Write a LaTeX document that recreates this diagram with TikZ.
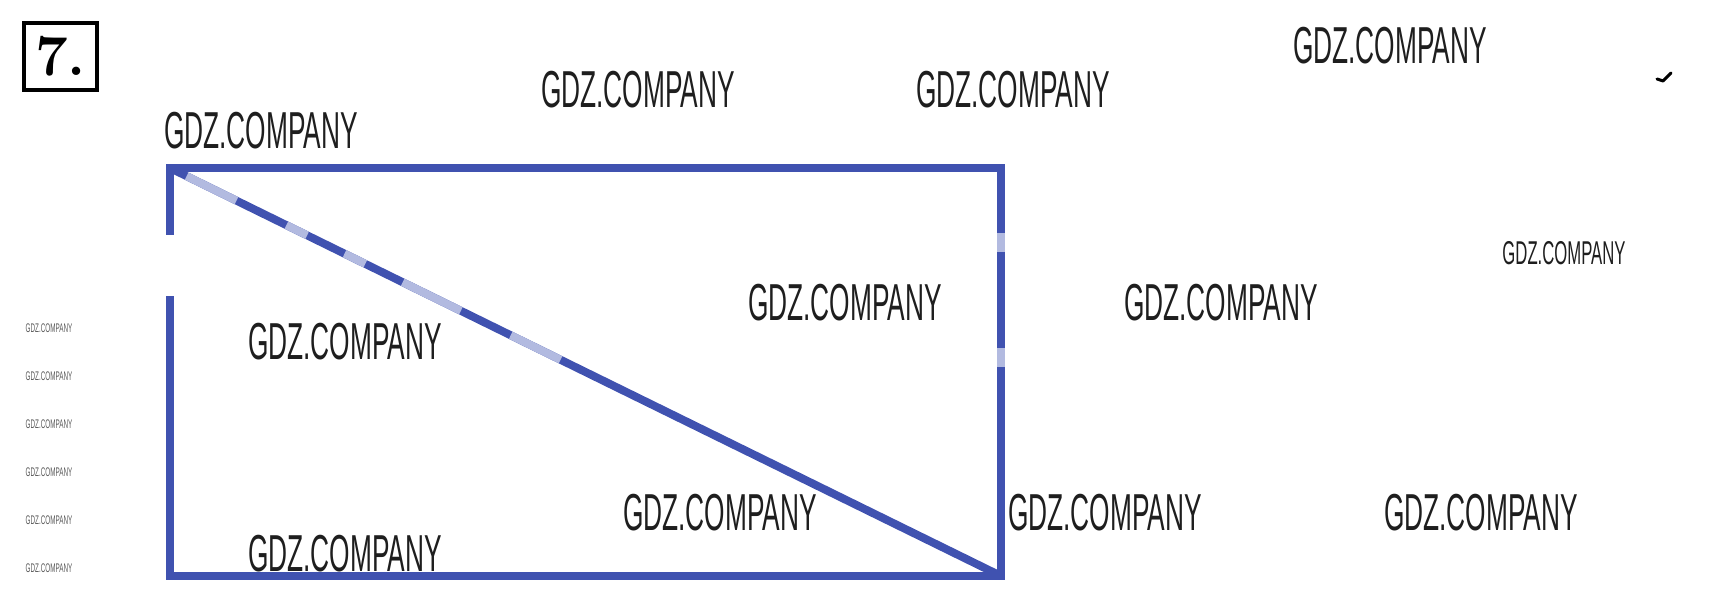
\documentclass[tikz,border=0pt]{standalone}
\usepackage{fontspec}
\usetikzlibrary{calc}
\newfontfamily\wmfont[FakeStretch=0.506]{Liberation Sans}
\definecolor{edgeblue}{RGB}{64,82,176}
\definecolor{lightblue}{RGB}{178,186,224}
\definecolor{wmgray}{RGB}{30,30,30}
\definecolor{wmsmallgray}{RGB}{90,90,90}
\tikzset{
  wm/.style={inner sep=0pt, text=wmgray, font=\wmfont\fontsize{52}{52}\selectfont},
  wmmid/.style={inner sep=0pt, text=wmgray, font=\wmfont\fontsize{33}{33}\selectfont},
  wmsmall/.style={inner sep=0pt, text=wmsmallgray, font=\wmfont\fontsize{12.5}{12.5}\selectfont},
  edge/.style={draw=edgeblue, line width=8pt},
  faded/.style={draw=lightblue, line width=8pt},
  numbox/.style={draw=black, line width=3.5pt, minimum width=73pt, minimum height=67pt, inner sep=0pt, font=\bfseries\fontsize{58}{58}\selectfont}
}
\begin{document}
\begin{tikzpicture}[x=1pt,y=-1pt]
\useasboundingbox (0,0) rectangle (1713,600);
% number box
\node[numbox] (num) at (60.5,56.5) {7.};
% rectangle corners
\coordinate (A) at (170,168);
\coordinate (B) at (1001,168);
\coordinate (C) at (1001,576);
\coordinate (D) at (170,576);
\coordinate (L1) at (170,235);
\coordinate (L2) at (170,300);
% edges
\draw[edge, line cap=rect] (A) -- (B) -- (C) -- (D) -- (L2);
\draw[edge] (A) -- (L1);
\draw[edge, line cap=round] (A) -- (C);
% faded pieces of the diagonal
\draw[faded] ($(A)!0.02!(C)$) -- ($(A)!0.08!(C)$);
\draw[faded] ($(A)!0.14!(C)$) -- ($(A)!0.165!(C)$);
\draw[faded] ($(A)!0.21!(C)$) -- ($(A)!0.235!(C)$);
\draw[faded] ($(A)!0.28!(C)$) -- ($(A)!0.35!(C)$);
\draw[faded] ($(A)!0.41!(C)$) -- ($(A)!0.47!(C)$);
% faded pieces of the right edge
\draw[faded] (1001,233) -- (1001,252);
\draw[faded] (1001,348) -- (1001,367);
% watermarks
\node[wm] (w1) at (1390,46) {GDZ.COMPANY};
\node[wm] (w2) at (638,90) {GDZ.COMPANY};
\node[wm] (w3) at (1013,90) {GDZ.COMPANY};
\node[wm] (w4) at (261,131) {GDZ.COMPANY};
\node[wmmid] (w5) at (1564,253) {GDZ.COMPANY};
\node[wm] (w6) at (845,303) {GDZ.COMPANY};
\node[wm] (w7) at (1221,303) {GDZ.COMPANY};
\node[wm] (w8) at (345,342) {GDZ.COMPANY};
\node[wm] (w9) at (720,513) {GDZ.COMPANY};
\node[wm] (w10) at (1105,513) {GDZ.COMPANY};
\node[wm] (w11) at (1481,513) {GDZ.COMPANY};
\node[wm] (w12) at (345,554) {GDZ.COMPANY};
\foreach \yy [count=\i] in {328,376,424,472,520,568}
  \node[wmsmall] (s\i) at (49,\yy) {GDZ.COMPANY};
% tick mark
\draw[line width=3pt, line cap=round, line join=round] (1657,79) -- (1663,81) -- (1671,73);
\end{tikzpicture}
\end{document}
